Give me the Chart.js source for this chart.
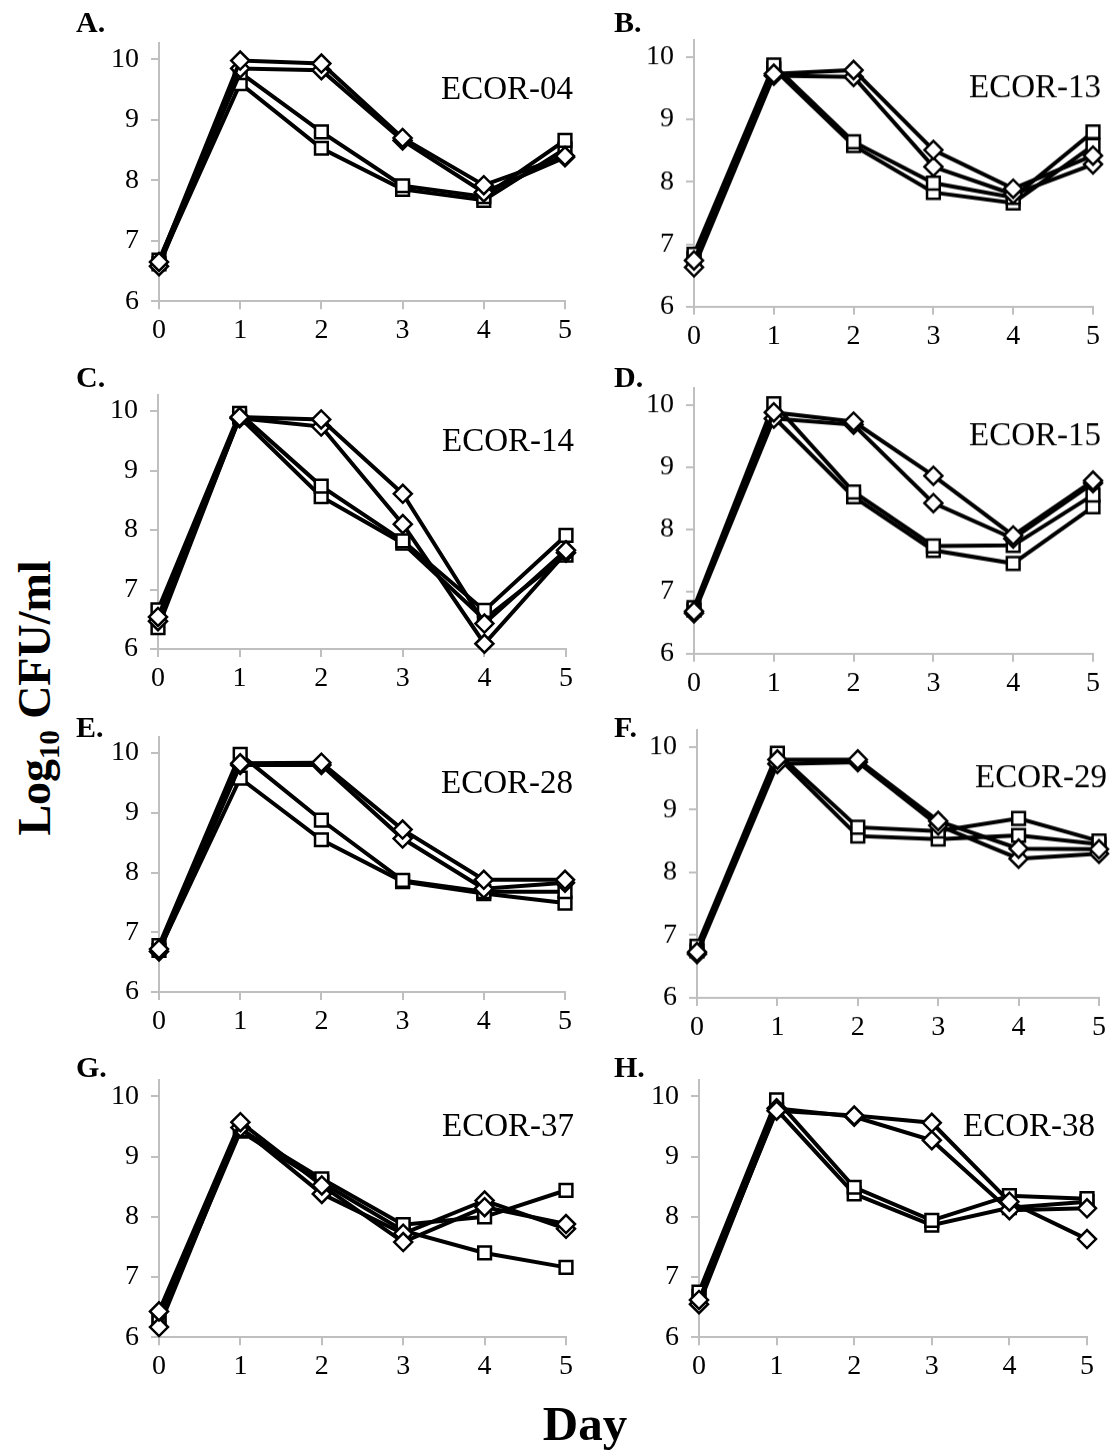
<!DOCTYPE html>
<html>
<head>
<meta charset="utf-8">
<script src="https://cdn.jsdelivr.net/npm/chart.js@4"></script>
<style>
  body { margin: 0; background: #fff; }
  #page { position: relative; width: 1111px; height: 1452px; overflow: hidden;
          font-family: "Liberation Serif", "Times New Roman", serif; color: #000; }
  .panel { position: absolute; }
  .letter { position: absolute; font-weight: bold; font-size: 30px; line-height: 30px; }
  #ytitle { position: absolute; left: 37px; top: 698px; font-weight: bold; font-size: 46px;
            white-space: nowrap; transform: translate(-50%, -50%) rotate(-90deg); }
  #ytitle sub { font-size: 0.62em; vertical-align: -0.3em; }
  #xtitle { position: absolute; left: 585px; top: 1399px; font-weight: bold; font-size: 49px;
            line-height: 49px; white-space: nowrap; transform: translateX(-50%); }
</style>
</head>
<body>
<div id="page">
  <div id="ytitle">Log<sub>10</sub> CFU/ml</div>
  <div id="xtitle">Day</div>
</div>
<script>
// x values (days) and y axis ticks
const days = [0, 1, 2, 3, 4, 5];
const yTicks = [6, 7, 8, 9, 10];

// panel names
const panelLetters = ["A.", "B.", "C.", "D.", "E.", "F.", "G.", "H."];
const strains = ["ECOR-04", "ECOR-13", "ECOR-14", "ECOR-15", "ECOR-28", "ECOR-29", "ECOR-37", "ECOR-38"];

// each strain: two square series, then two diamond series (log10 CFU/ml per day)
const ecor04 = [
  [6.68, 9.78, 8.80, 7.91, 7.73, 8.66],
  [6.62, 9.60, 8.53, 7.85, 7.67, 8.52],
  [6.65, 9.98, 9.93, 8.70, 7.92, 8.40],
  [6.58, 9.85, 9.82, 8.66, 7.80, 8.38]
];
const ecor13 = [
  [6.84, 9.87, 8.64, 7.98, 7.75, 8.80],
  [6.77, 9.81, 8.58, 7.83, 7.66, 8.58],
  [6.74, 9.73, 9.79, 8.51, 7.89, 8.42],
  [6.63, 9.70, 9.68, 8.24, 7.80, 8.28]
];
const ecor14 = [
  [6.66, 9.96, 8.74, 7.82, 6.65, 7.91],
  [6.36, 9.90, 8.56, 7.78, 6.50, 7.58],
  [6.54, 9.90, 9.86, 8.61, 6.43, 7.66],
  [6.47, 9.88, 9.74, 8.10, 6.09, 7.62]
];
const ecor15 = [
  [6.74, 10.02, 8.60, 7.73, 7.74, 8.55],
  [6.70, 9.80, 8.52, 7.66, 7.45, 8.36],
  [6.68, 9.88, 9.73, 8.86, 7.90, 8.78],
  [6.65, 9.78, 9.68, 8.42, 7.85, 8.74]
];
const ecor28 = [
  [6.78, 9.98, 8.88, 7.87, 7.68, 7.68],
  [6.70, 9.58, 8.55, 7.85, 7.65, 7.49],
  [6.72, 9.83, 9.84, 8.72, 7.88, 7.88],
  [6.68, 9.80, 9.80, 8.57, 7.73, 7.83]
];
const ecor29 = [
  [6.82, 9.90, 8.72, 8.66, 8.86, 8.50],
  [6.75, 9.85, 8.58, 8.53, 8.59, 8.45],
  [6.73, 9.80, 9.80, 8.82, 8.38, 8.37],
  [6.70, 9.73, 9.76, 8.75, 8.22, 8.30]
];
const ecor37 = [
  [6.33, 9.45, 8.63, 7.87, 8.00, 8.44],
  [6.25, 9.42, 8.57, 7.77, 7.40, 7.16],
  [6.43, 9.57, 8.52, 7.58, 8.16, 7.88],
  [6.17, 9.48, 8.38, 7.72, 8.27, 7.80]
];
const ecor38 = [
  [6.75, 9.94, 8.49, 7.94, 8.35, 8.30],
  [6.68, 9.78, 8.38, 7.86, 8.15, 8.25],
  [6.62, 9.76, 9.68, 9.56, 8.25, 7.63],
  [6.55, 9.80, 9.66, 9.27, 8.11, 8.14]
];
const panelData = [ecor04, ecor13, ecor14, ecor15, ecor28, ecor29, ecor37, ecor38];
const seriesMarkers = ["rect", "rect", "rectRot", "rectRot"];

// page layout: where day 0 / day 5 and 10 / 6 sit on the page
const plotBoxes = [
  { x0: 159, x5: 565, y10: 59, y6: 301 },
  { x0: 694, x5: 1093, y10: 57, y6: 306 },
  { x0: 158, x5: 566, y10: 411, y6: 649 },
  { x0: 694, x5: 1093, y10: 405, y6: 653 },
  { x0: 159, x5: 565, y10: 753, y6: 992 },
  { x0: 697, x5: 1099, y10: 747, y6: 997 },
  { x0: 159, x5: 566, y10: 1096, y6: 1337 },
  { x0: 699, x5: 1087, y10: 1096, y6: 1337 }
];
const letterLeft = [76, 614];
const letterTop = [7, 362, 712, 1052];

const YMAX = 10.27;
const PT = 20, PR = 24, AXW = 70, AXH = 50;
const AXIS_GREY = "#bfbfbf";
const TICK_FONT = { family: "Liberation Serif", size: 28 };

// strain name inside each panel
const strainLabel = {
  id: "strainLabel",
  afterDraw(chart, args, opts) {
    const { ctx, scales: { x, y } } = chart;
    ctx.save();
    ctx.font = '33px "Liberation Serif"';
    ctx.fillStyle = "#000";
    ctx.textAlign = "right";
    ctx.textBaseline = "alphabetic";
    ctx.fillText(opts.text, x.getPixelForValue(5) + 8, y.getPixelForValue(10) + 40);
    ctx.restore();
  }
};

const page = document.getElementById("page");

panelData.forEach((series, i) => {
  const box = plotBoxes[i];
  const unit = (box.y6 - box.y10) / 4;
  const top = box.y10 - (YMAX - 10) * unit;

  const div = document.createElement("div");
  div.className = "panel";
  div.style.left = (box.x0 - AXW) + "px";
  div.style.top = (top - PT) + "px";
  div.style.width = (box.x5 - box.x0 + AXW + PR) + "px";
  div.style.height = (box.y6 - top + PT + AXH) + "px";
  const canvas = document.createElement("canvas");
  div.appendChild(canvas);
  page.appendChild(div);

  const letter = document.createElement("div");
  letter.className = "letter";
  letter.textContent = panelLetters[i];
  letter.style.left = letterLeft[i % 2] + "px";
  letter.style.top = letterTop[Math.floor(i / 2)] + "px";
  page.appendChild(letter);

  const datasets = series.map((vals, s) => ({
    data: days.map((d, k) => ({ x: d, y: vals[k] })),
    borderColor: "#000",
    borderWidth: 4,
    pointStyle: seriesMarkers[s],
    pointRadius: 9,
    pointBorderWidth: 2.5,
    pointBackgroundColor: "#fff",
    pointBorderColor: "#000",
    tension: 0,
    clip: false,
    order: seriesMarkers[s] === "rect" ? 2 : 1
  }));

  new Chart(canvas, {
    type: "line",
    data: { datasets },
    plugins: [strainLabel],
    options: {
      responsive: true,
      maintainAspectRatio: false,
      animation: false,
      devicePixelRatio: 1,
      layout: { padding: { left: 0, top: PT, right: PR, bottom: 0 } },
      plugins: {
        legend: { display: false },
        tooltip: { enabled: false },
        strainLabel: { text: strains[i] }
      },
      scales: {
        x: {
          type: "linear",
          min: 0,
          max: 5,
          ticks: { stepSize: 1, padding: 5, color: "#000", font: TICK_FONT },
          grid: { drawOnChartArea: false, drawTicks: true, tickLength: 8, color: AXIS_GREY, lineWidth: 2 },
          border: { display: true, color: AXIS_GREY, width: 2 },
          afterFit(scale) { scale.height = AXH; scale.paddingLeft = 0; scale.paddingRight = 0; }
        },
        y: {
          min: 6,
          max: YMAX,
          afterBuildTicks(scale) { scale.ticks = yTicks.map(v => ({ value: v })); },
          ticks: { padding: 12, color: "#000", font: TICK_FONT },
          grid: { drawOnChartArea: false, drawTicks: true, tickLength: 8, color: AXIS_GREY, lineWidth: 2 },
          border: { display: true, color: AXIS_GREY, width: 2 },
          afterFit(scale) { scale.width = AXW; scale.paddingTop = 0; scale.paddingBottom = 0; }
        }
      }
    }
  });
});
</script>
</body>
</html>
